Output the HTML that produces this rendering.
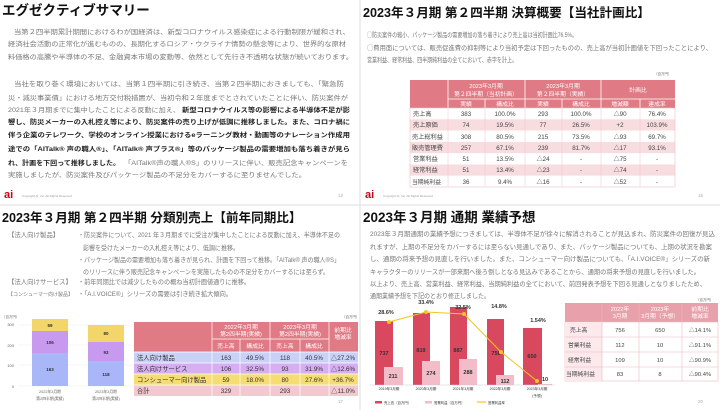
<!DOCTYPE html>
<html><head><meta charset="utf-8"><style>
body{margin:0;background:#fff}
svg{display:block;font-family:"Liberation Sans","Noto Sans CJK JP",sans-serif}
.t{font-size:13.5px;font-weight:bold;fill:#111}
.b{font-size:6.4px;fill:#777}
.k{font-size:6.4px;fill:#222;font-weight:bold}
.s{font-size:5.5px;fill:#444}
.w{font-size:5.8px;fill:#fff}
</style></head><body>
<svg width="720" height="410" viewBox="0 0 720 410" xmlns="http://www.w3.org/2000/svg">
<rect width="720" height="410" fill="#fff"/>
<line x1="0" y1="205" x2="720" y2="205" stroke="#ddd" stroke-width="1"/>
<line x1="360" y1="0" x2="360" y2="410" stroke="#ddd" stroke-width="1"/>

<!-- Q1 -->
<text x="2" y="15" class="t">エグゼクティブサマリー</text>
<text x="14" y="34" class="b" textLength="336" lengthAdjust="spacingAndGlyphs">当第２四半期累計期間におけるわが国経済は、新型コロナウイルス感染症による行動制限が緩和され、</text>
<text x="8" y="46" class="b" textLength="338" lengthAdjust="spacingAndGlyphs">経済社会活動の正常化が進むものの、長期化するロシア・ウクライナ情勢の懸念等により、世界的な原材</text>
<text x="8" y="59" class="b" textLength="345" lengthAdjust="spacingAndGlyphs">料価格の高騰や半導体の不足、金融資本市場の変動等、依然として先行き不透明な状態が続いております。</text>
<text x="14" y="86" class="b" textLength="330" lengthAdjust="spacingAndGlyphs">当社を取り巻く環境においては、当第１四半期に引き続き、当第２四半期におきましても、「緊急防</text>
<text x="8" y="100" class="b" textLength="340" lengthAdjust="spacingAndGlyphs">災・減災事業債」における地方交付税措置が、当初令和２年度までとされていたことに伴い、防災案件が</text>
<text x="8" y="112" class="b" textLength="172" lengthAdjust="spacingAndGlyphs">2021年３月期までに集中したことによる反動に加え、</text>
<text x="182" y="112" class="k" textLength="168" lengthAdjust="spacingAndGlyphs">新型コロナウイルス等の影響による半導体不足が影</text>
<text x="8" y="124" class="k" textLength="342" lengthAdjust="spacingAndGlyphs">響し、防災メーカーの入札控え等により、防災案件の売り上げが低調に推移しました。また、コロナ禍に</text>
<text x="8" y="137" class="k" textLength="342" lengthAdjust="spacingAndGlyphs">伴う企業のテレワーク、学校のオンライン授業におけるeラーニング教材・動画等のナレーション作成用</text>
<text x="8" y="151" class="k" textLength="342" lengthAdjust="spacingAndGlyphs">途での「AITalk® 声の職人®」、「AITalk® 声プラス®」等のパッケージ製品の需要増加も落ち着きが見ら</text>
<text x="8" y="165" class="k" textLength="112" lengthAdjust="spacingAndGlyphs">れ、計画を下回って推移しました。</text>
<text x="124" y="165" class="b" textLength="224" lengthAdjust="spacingAndGlyphs">「AITalk®声の職人®S」のリリースに伴い、販売記念キャンペーンを</text>
<text x="8" y="177" class="b" textLength="298" lengthAdjust="spacingAndGlyphs">実施しましたが、防災案件及びパッケージ製品の不足分をカバーするに至りませんでした。</text>
<text x="4" y="198" font-size="11" font-weight="bold" fill="#d0021b">ai</text>
<text x="22" y="197" font-size="3" fill="#999">Copyright AI, Inc. All Rights Reserved.</text>
<text x="338" y="197" font-size="4.5" fill="#aaa">12</text>

<!-- Q2 -->
<text x="363" y="17" class="t" font-size="12.6" style="font-size:12.6px">2023年３月期 第２四半期 決算概要【当社計画比】</text>
<text x="367" y="37" class="b" textLength="210" lengthAdjust="spacingAndGlyphs">◯防災案件の縮小、パッケージ製品の需要増加の落ち着きにより売上高は当初計画比76.5%。</text>
<text x="367" y="50" class="b" textLength="345" lengthAdjust="spacingAndGlyphs">◯費用面については、販売促進費の抑制等により当初予定は下回ったものの、売上高が当初計画値を下回ったことにより、</text>
<text x="367" y="62" class="b" textLength="150" lengthAdjust="spacingAndGlyphs">営業利益、経常利益、四半期純利益の全てにおいて、赤字を計上。</text>
<text x="654" y="75" font-size="3.5" fill="#666">（百万円）</text>
<rect x="410" y="80" width="265" height="28" fill="#e07a85"/>
<g stroke="#fff" stroke-width="0.8">
<line x1="448" y1="80" x2="448" y2="187"/><line x1="485" y1="99" x2="485" y2="187"/><line x1="525" y1="80" x2="525" y2="187"/><line x1="562" y1="99" x2="562" y2="187"/><line x1="601" y1="80" x2="601" y2="187"/><line x1="640" y1="99" x2="640" y2="187"/>
<line x1="448" y1="99" x2="675" y2="99"/>
</g>
<text x="486" y="88" class="w" text-anchor="middle">2023年3月期</text>
<text x="486" y="96" class="w" text-anchor="middle">第２四半期（当初計画）</text>
<text x="563" y="88" class="w" text-anchor="middle">2023年3月期</text>
<text x="563" y="96" class="w" text-anchor="middle">第２四半期（実績）</text>
<text x="638" y="92" class="w" text-anchor="middle">計画比</text>
<text x="466" y="106" class="w" text-anchor="middle">実績</text><text x="505" y="106" class="w" text-anchor="middle">構成比</text>
<text x="543" y="106" class="w" text-anchor="middle">実績</text><text x="581" y="106" class="w" text-anchor="middle">構成比</text>
<text x="620" y="106" class="w" text-anchor="middle">増減額</text><text x="657" y="106" class="w" text-anchor="middle">達成率</text>
<g>
<rect x="410" y="108" width="265" height="11.3" fill="#fff"/>
<rect x="410" y="119.3" width="265" height="11.3" fill="#f8dde0"/>
<rect x="410" y="130.6" width="265" height="11.3" fill="#fff"/>
<rect x="410" y="141.9" width="265" height="11.3" fill="#f8dde0"/>
<rect x="410" y="153.2" width="265" height="11.3" fill="#fff"/>
<rect x="410" y="164.5" width="265" height="11.3" fill="#f8dde0"/>
<rect x="410" y="175.8" width="265" height="11.3" fill="#fff"/>
<rect x="410" y="108" width="265" height="79" fill="none" stroke="#f0c0c6" stroke-width="0.6"/>
<g stroke="#f0c0c6" stroke-width="0.5"><line x1="448" y1="108" x2="448" y2="187"/><line x1="485" y1="108" x2="485" y2="187"/><line x1="525" y1="108" x2="525" y2="187"/><line x1="562" y1="108" x2="562" y2="187"/><line x1="601" y1="108" x2="601" y2="187"/><line x1="640" y1="108" x2="640" y2="187"/></g>
</g>
<g font-size="6.2" fill="#444">
<text x="413" y="116">売上高</text><text x="413" y="127">売上原価</text><text x="412" y="139">売上総利益</text><text x="412" y="150">販売管理費</text><text x="413" y="161">営業利益</text><text x="413" y="172">経常利益</text><text x="412" y="184" font-size="5.8">当期純利益</text>
<g text-anchor="middle">
<text x="466" y="116">383</text><text x="466" y="127">74</text><text x="466" y="139">308</text><text x="466" y="150">257</text><text x="466" y="161">51</text><text x="466" y="172">51</text><text x="466" y="184">36</text>
<text x="505" y="116">100.0%</text><text x="505" y="127">19.5%</text><text x="505" y="139">80.5%</text><text x="505" y="150">67.1%</text><text x="505" y="161">13.5%</text><text x="505" y="172">13.4%</text><text x="505" y="184">9.4%</text>
<text x="543" y="116">293</text><text x="543" y="127">77</text><text x="543" y="139">215</text><text x="543" y="150">239</text><text x="543" y="161">△24</text><text x="543" y="172">△23</text><text x="543" y="184">△16</text>
<text x="581" y="116">100.0%</text><text x="581" y="127">26.5%</text><text x="581" y="139">73.5%</text><text x="581" y="150">81.7%</text><text x="581" y="161">-</text><text x="581" y="172">-</text><text x="581" y="184">-</text>
<text x="620" y="116">△90</text><text x="620" y="127">+2</text><text x="620" y="139">△93</text><text x="620" y="150">△17</text><text x="620" y="161">△75</text><text x="620" y="172">△74</text><text x="620" y="184">△52</text>
<text x="657" y="116">76.4%</text><text x="657" y="127">103.9%</text><text x="657" y="139">69.7%</text><text x="657" y="150">93.1%</text><text x="657" y="161">-</text><text x="657" y="172">-</text><text x="657" y="184">-</text>
</g></g>
<text x="365" y="198" font-size="11" font-weight="bold" fill="#d0021b">ai</text>
<text x="383" y="197" font-size="3" fill="#999">Copyright AI, Inc. All Rights Reserved.</text>
<text x="698" y="197" font-size="4.5" fill="#aaa">15</text>

<!-- Q3 -->
<text x="2" y="222" class="t" style="font-size:12.6px">2023年３月期 第２四半期 分類別売上【前年同期比】</text>
<g class="b">
<text x="8" y="237">【法人向け製品】</text>
<text x="78" y="237" textLength="262" lengthAdjust="spacingAndGlyphs">・防災案件について、2021 年３月期までに受注が集中したことによる反動に加え、半導体不足の</text>
<text x="83" y="250" textLength="156" lengthAdjust="spacingAndGlyphs">影響を受けたメーカーの入札控え等により、低調に推移。</text>
<text x="78" y="262" textLength="262" lengthAdjust="spacingAndGlyphs">・パッケージ製品の需要増加も落ち着きが見られ、計画を下回って推移。「AITalk® 声の職人®S」</text>
<text x="83" y="274" textLength="246" lengthAdjust="spacingAndGlyphs">のリリースに伴う販売記念キャンペーンを実施したものの不足分をカバーするには至らず。</text>
<text x="8" y="284">【法人向けサービス】</text>
<text x="78" y="284" textLength="172" lengthAdjust="spacingAndGlyphs">・前年同期比では減少したものの概ね当初計画値通りに推移。</text>
<text x="8" y="296" font-size="5">【コンシューマー向け製品】</text>
<text x="78" y="296" textLength="154" lengthAdjust="spacingAndGlyphs">・「A.I.VOICE®」シリーズの需要は引き続き拡大傾向。</text>
</g>
<text x="2" y="318" font-size="3.5" fill="#666">（百万円）</text>
<g font-size="4" fill="#666" text-anchor="end"><text x="14" y="326">300</text><text x="14" y="347">200</text><text x="14" y="367">100</text><text x="14" y="388">0</text></g>
<g stroke="#eee" stroke-width="0.5"><line x1="18" y1="325" x2="135" y2="325"/><line x1="18" y1="345" x2="135" y2="345"/><line x1="18" y1="365" x2="135" y2="365"/><line x1="18" y1="386" x2="135" y2="386"/></g>
<rect x="32" y="353" width="36" height="33" fill="#a9b6f7"/><rect x="32" y="331" width="36" height="22" fill="#c79af0"/><rect x="32" y="319" width="36" height="12" fill="#f2d66a"/>
<rect x="88" y="361" width="36" height="25" fill="#a9b6f7"/><rect x="88" y="342" width="36" height="19" fill="#c79af0"/><rect x="88" y="325" width="36" height="17" fill="#f2d66a"/>
<g font-size="4.5" fill="#333" font-weight="bold" text-anchor="middle">
<text x="50" y="371">163</text><text x="50" y="344">106</text><text x="50" y="327">59</text>
<text x="106" y="376">118</text><text x="106" y="354">93</text><text x="106" y="335">80</text></g>
<g font-size="3.8" fill="#666" text-anchor="middle"><text x="50" y="393">2022年3月期</text><text x="50" y="400">第2四半期(実績)</text><text x="106" y="393">2023年3月期</text><text x="106" y="400">第2四半期(実績)</text></g>
<text x="342" y="318" font-size="3.5" fill="#666">（百万円）</text>
<rect x="134" y="322" width="224" height="30" fill="#e07a85"/>
<rect x="134" y="352" width="224" height="11" fill="#c9d1f7"/>
<rect x="134" y="363" width="224" height="11" fill="#d6aff2"/>
<rect x="134" y="374" width="224" height="11" fill="#f5dc73"/>
<rect x="134" y="385" width="224" height="11" fill="#f3c9cf"/>
<g stroke="#fff" stroke-width="0.7"><line x1="212" y1="322" x2="212" y2="396"/><line x1="240" y1="339" x2="240" y2="396"/><line x1="270" y1="322" x2="270" y2="396"/><line x1="300" y1="339" x2="300" y2="396"/><line x1="329" y1="322" x2="329" y2="396"/><line x1="212" y1="339" x2="329" y2="339"/><line x1="134" y1="352" x2="358" y2="352"/><line x1="134" y1="363" x2="358" y2="363"/><line x1="134" y1="374" x2="358" y2="374"/><line x1="134" y1="385" x2="358" y2="385"/></g>
<g class="w" text-anchor="middle"><text x="241" y="329">2022年3月期</text><text x="241" y="336">第2四半期(実績)</text><text x="300" y="329">2023年3月期</text><text x="300" y="336">第2四半期(実績)</text><text x="343" y="332">前期比</text><text x="343" y="339">増減率</text>
<text x="226" y="348">売上高</text><text x="255" y="348">構成比</text><text x="285" y="348">売上高</text><text x="314" y="348">構成比</text></g>
<g font-size="6.3" fill="#333">
<text x="137" y="360">法人向け製品</text><text x="137" y="371">法人向けサービス</text><text x="137" y="382">コンシューマー向け製品</text><text x="137" y="393">合計</text>
<g text-anchor="middle">
<text x="226" y="360">163</text><text x="226" y="371">106</text><text x="226" y="382">59</text><text x="226" y="393">329</text>
<text x="255" y="360">49.5%</text><text x="255" y="371">32.5%</text><text x="255" y="382">18.0%</text>
<text x="285" y="360">118</text><text x="285" y="371">93</text><text x="285" y="382">80</text><text x="285" y="393">293</text>
<text x="314" y="360">40.5%</text><text x="314" y="371">31.9%</text><text x="314" y="382">27.6%</text>
<text x="343" y="360">△27.2%</text><text x="343" y="371">△12.6%</text><text x="343" y="382">+36.7%</text><text x="343" y="393">△11.0%</text></g></g>
<text x="338" y="403" font-size="4.5" fill="#aaa">17</text>

<!-- Q4 -->
<text x="363" y="222" class="t">2023年３月期 通期 業績予想</text>
<g class="b">
<text x="370" y="236" textLength="345" lengthAdjust="spacingAndGlyphs">2023年３月期通期の業績予想につきましては、半導体不足が徐々に解消されることが見込まれ、防災案件の回復が見込</text>
<text x="370" y="249" textLength="342" lengthAdjust="spacingAndGlyphs">れますが、上期の不足分をカバーするには至らない見通しであり、また、パッケージ製品についても、上期の状況を勘案</text>
<text x="370" y="261" textLength="340" lengthAdjust="spacingAndGlyphs">し、通期の将来予想の見直しを行いました。また、コンシューマー向け製品についても、「A.I.VOICE®」シリーズの新</text>
<text x="370" y="274" textLength="330" lengthAdjust="spacingAndGlyphs">キャラクターのリリースが一部来期へ後ろ倒しとなる見込みであることから、通期の将来予想の見直しを行いました。</text>
<text x="370" y="286" textLength="336" lengthAdjust="spacingAndGlyphs">以上より、売上高、営業利益、経常利益、当期純利益の全てにおいて、前回発表予想を下回る見通しとなりましたため、</text>
<text x="370" y="298" textLength="120" lengthAdjust="spacingAndGlyphs">通期業績予想を下記のとおり修正しました。</text>
</g>
<g fill="#d9485f">
<rect x="375" y="321" width="18" height="64"/><rect x="413" y="313" width="17" height="72"/><rect x="450" y="307" width="17" height="78"/><rect x="487" y="319" width="17" height="66"/><rect x="523" y="328" width="19" height="57"/></g>
<g fill="#f2bcc8">
<rect x="384" y="367" width="19" height="18"/><rect x="422" y="361" width="18" height="24"/><rect x="459" y="359" width="18" height="26"/><rect x="496" y="375" width="18" height="10"/><rect x="538" y="384" width="14" height="1"/></g>
<g font-size="5.5" font-weight="bold" fill="#333" text-anchor="middle">
<text x="384" y="355">737</text><text x="421" y="352">819</text><text x="458" y="352">887</text><text x="496" y="355">756</text><text x="532" y="358">650</text>
<text x="393" y="378">211</text><text x="431" y="375">274</text><text x="468" y="374">288</text><text x="505" y="383">112</text><text x="545" y="381">10</text>
<text x="386" y="314">28.6%</text><text x="426" y="304">33.4%</text><text x="463" y="309">32.5%</text><text x="499" y="308">14.8%</text><text x="538" y="322">1.54%</text></g>
<polyline points="389,322 426,312 464,314 501,352 537,381" fill="none" stroke="#f2c521" stroke-width="1"/>
<g fill="#f2c521"><circle cx="389" cy="322" r="2"/><circle cx="426" cy="312" r="2"/><circle cx="464" cy="314" r="2"/><circle cx="501" cy="352" r="2"/><circle cx="537" cy="381" r="2"/></g>
<line x1="370" y1="385" x2="555" y2="385" stroke="#ccc" stroke-width="0.5"/>
<g font-size="3.6" fill="#333" text-anchor="middle"><text x="389" y="390">2019年3月期</text><text x="426" y="390">2020年3月期</text><text x="463" y="390">2021年3月期</text><text x="500" y="390">2022年3月期</text><text x="537" y="390">2023年3月期</text><text x="537" y="397">(予想)</text></g>
<rect x="375" y="401" width="7" height="2.5" fill="#d9485f"/><text x="384" y="404" font-size="3.4" fill="#333">売上高（百万円）</text>
<rect x="425" y="401" width="7" height="2.5" fill="#f2bcc8"/><text x="434" y="404" font-size="3.4" fill="#333">営業利益（百万円）</text>
<line x1="477" y1="402" x2="486" y2="402" stroke="#f2c521" stroke-width="1.2"/><text x="488" y="404" font-size="3.4" fill="#333">営業利益率</text>
<text x="696" y="301" font-size="3.5" fill="#666">（百万円）</text>
<rect x="565" y="303" width="153" height="19" fill="#e8a0aa"/>
<rect x="565" y="322" width="153" height="59" fill="#fff" stroke="#ebb8c0" stroke-width="0.6"/>
<rect x="565" y="322" width="37" height="59" fill="#fbe9ec"/>
<g stroke="#ebb8c0" stroke-width="0.6"><line x1="565" y1="337" x2="718" y2="337"/><line x1="565" y1="352" x2="718" y2="352"/><line x1="565" y1="367" x2="718" y2="367"/><line x1="602" y1="303" x2="602" y2="381"/><line x1="639" y1="303" x2="639" y2="381"/><line x1="682" y1="303" x2="682" y2="381"/></g>
<g class="w" text-anchor="middle"><text x="620" y="311">2022年</text><text x="620" y="318">3月期</text><text x="660" y="311">2023年</text><text x="660" y="318">3月期（予想）</text><text x="700" y="311">前期比</text><text x="700" y="318">増減率</text></g>
<g font-size="5.8" fill="#444">
<text x="570" y="332">売上高</text><text x="568" y="347">営業利益</text><text x="568" y="362">経常利益</text><text x="566" y="376">当期純利益</text>
<g text-anchor="middle"><text x="620" y="332">756</text><text x="620" y="347">112</text><text x="620" y="362">109</text><text x="620" y="376">83</text>
<text x="660" y="332">650</text><text x="660" y="347">10</text><text x="660" y="362">10</text><text x="660" y="376">8</text>
<text x="700" y="332">△14.1%</text><text x="700" y="347">△91.1%</text><text x="700" y="362">△90.9%</text><text x="700" y="376">△90.4%</text></g></g>
<text x="698" y="403" font-size="4.5" fill="#aaa">20</text>
</svg>
</body></html>
